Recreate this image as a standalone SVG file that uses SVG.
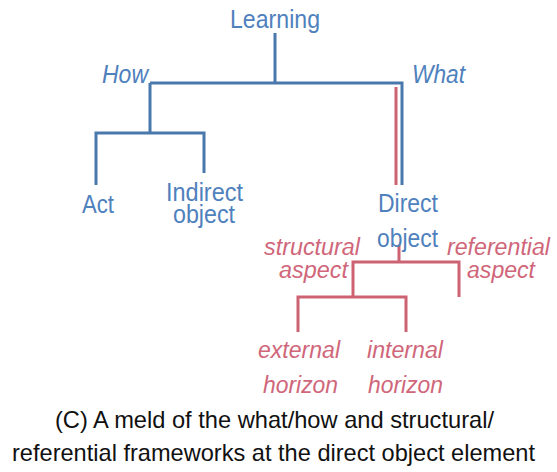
<svg xmlns="http://www.w3.org/2000/svg" width="557" height="472" viewBox="0 0 557 472">
<style>
text{font-family:"Liberation Sans",Arial,sans-serif;}
.b{fill:#4f81bd;font-size:26px;}
.r{fill:#d0667a;font-size:23px;font-style:italic;}
.bi{fill:#4f81bd;font-size:25px;font-style:italic;}
.c{fill:#111;font-size:24px;}
.lb{stroke:#4a78ad;stroke-width:3;fill:none;}
.lr{stroke:#cc6272;stroke-width:3;fill:none;}
</style>
<rect width="557" height="472" fill="#fff"/>
<g id="connectors">
<path class="lb" d="M275 33V83M150 83H402V185M150 83V133M96 185V133H204V173"/>
<path class="lr" d="M396 87V185M399 245V262M353 297V262H459V297M298 332V297H406V332"/>
</g>
<g id="learning"><text class="b" x="230" y="28" textLength="90" lengthAdjust="spacingAndGlyphs">Learning</text></g>
<g id="how"><text class="bi" x="102" y="83" textLength="46" lengthAdjust="spacingAndGlyphs">How</text></g>
<g id="what"><text class="bi" x="412" y="83" textLength="53" lengthAdjust="spacingAndGlyphs">What</text></g>
<g id="act"><text class="b" x="82" y="213" textLength="32" lengthAdjust="spacingAndGlyphs">Act</text></g>
<g id="indirect"><text class="b" x="166" y="201" textLength="77" lengthAdjust="spacingAndGlyphs">Indirect</text><text class="b" x="173" y="223" textLength="62" lengthAdjust="spacingAndGlyphs">object</text></g>
<g id="direct"><text class="b" x="378" y="212" textLength="60" lengthAdjust="spacingAndGlyphs">Direct</text><text class="b" x="377" y="247" textLength="61" lengthAdjust="spacingAndGlyphs">object</text></g>
<g id="structural"><text class="r" x="264" y="255" textLength="96" lengthAdjust="spacingAndGlyphs">structural</text><text class="r" x="279" y="278" textLength="69" lengthAdjust="spacingAndGlyphs">aspect</text></g>
<g id="referential"><text class="r" x="447" y="255" textLength="103" lengthAdjust="spacingAndGlyphs">referential</text><text class="r" x="467" y="278" textLength="68" lengthAdjust="spacingAndGlyphs">aspect</text></g>
<g id="external"><text class="r" x="258" y="358" textLength="82" lengthAdjust="spacingAndGlyphs">external</text><text class="r" x="263" y="393" textLength="75" lengthAdjust="spacingAndGlyphs">horizon</text></g>
<g id="internal"><text class="r" x="367" y="358" textLength="76" lengthAdjust="spacingAndGlyphs">internal</text><text class="r" x="368" y="393" textLength="75" lengthAdjust="spacingAndGlyphs">horizon</text></g>
<g id="caption"><text class="c" x="55" y="428" textLength="439" lengthAdjust="spacingAndGlyphs">(C) A meld of the what/how and structural/</text><text class="c" x="12" y="461" textLength="523" lengthAdjust="spacingAndGlyphs">referential frameworks at the direct object element</text></g>
</svg>
